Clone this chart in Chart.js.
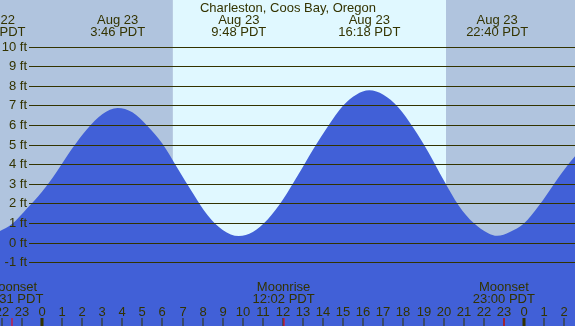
<!DOCTYPE html>
<html>
<head>
<meta charset="utf-8">
<script src="https://cdn.jsdelivr.net/npm/chart.js@4/dist/chart.umd.min.js"></script>
<style>
html,body{margin:0;padding:0;background:#fff;}
#wrap{width:575px;height:326px;position:relative;}
</style>
</head>
<body>
<div id="wrap"><canvas id="c" width="575" height="326"></canvas></div>
<script>
// Hours relative to midnight Aug 23 (negative = Aug 22)
const hours   = [-2.37, -1.5, -0.75, 0, 0.75, 1.5, 2.25, 3, 3.77, 4.5, 5.25, 6, 6.75, 7.5, 8.25, 9, 9.8, 10.5, 11.25, 12, 12.75, 13.5, 14.25, 15, 15.65, 16.3, 17, 17.75, 18.5, 19.25, 20, 20.75, 21.5, 22.2, 22.67, 23.3, 24, 24.75, 25.5, 26.25, 27];
const heights = [0.45, 0.95, 1.75, 2.6, 3.65, 4.8, 5.8, 6.55, 6.87, 6.65, 5.95, 5.05, 3.8, 2.55, 1.4, 0.65, 0.34, 0.55, 1.2, 2.2, 3.45, 4.75, 5.95, 7.0, 7.55, 7.77, 7.55, 6.9, 5.85, 4.6, 3.2, 1.9, 1.0, 0.5, 0.35, 0.55, 0.98, 1.9, 3.0, 4.05, 4.95];

const title = "Charleston, Coos Bay, Oregon";
const extremeHours  = [-2.37, 3.77, 9.8, 16.3, 22.67];
const extremeDates  = ["Aug 22", "Aug 23", "Aug 23", "Aug 23", "Aug 23"];
const extremeTimes  = ["21:38 PDT", "3:46 PDT", "9:48 PDT", "16:18 PDT", "22:40 PDT"];

const levelTicks = [-1, 0, 1, 2, 3, 4, 5, 6, 7, 8, 9, 10];
const hourTicks  = [-2, -1, 0, 1, 2, 3, 4, 5, 6, 7, 8, 9, 10, 11, 12, 13, 14, 15, 16, 17, 18, 19, 20, 21, 22, 23, 24, 25, 26];
const hourLabels = ["22","23","0","1","2","3","4","5","6","7","8","9","10","11","12","13","14","15","16","17","18","19","20","21","22","23","0","1","2"];

const moonHours  = [-1.48, 12.03, 23.0];
const moonEvents = ["Moonset", "Moonrise", "Moonset"];
const moonTimes  = ["22:31 PDT", "12:02 PDT", "23:00 PDT"];

const sunrise = 6.52, sunset = 20.12;
const xMin = -2.0916, xMax = 26.544;
const yMin = -4.25, yMax = 12.38;

const NIGHT = '#B0C4DE', DAY = '#E0F8FF', FILL = '#4160D7', INK = '#333300';
const FONT = "13px 'Liberation Sans', Arial, sans-serif";

const deco = {
  id: 'deco',
  beforeDatasetsDraw(chart) {
    const {ctx, chartArea: a, scales: {x}} = chart;
    ctx.save();
    const xs = x.getPixelForValue(sunrise), xe = x.getPixelForValue(sunset);
    ctx.fillStyle = NIGHT;
    ctx.fillRect(a.left, a.top, xs - a.left, a.bottom - a.top);
    ctx.fillRect(xe, a.top, a.right - xe, a.bottom - a.top);
    ctx.fillStyle = DAY;
    ctx.fillRect(xs, a.top, xe - xs, a.bottom - a.top);
    ctx.restore();
  },
  afterDatasetsDraw(chart) {
    const {ctx, chartArea: a, scales: {x, y}} = chart;
    ctx.save();
    ctx.strokeStyle = INK; ctx.lineWidth = 1;
    ctx.font = FONT; ctx.fillStyle = INK;
    ctx.textAlign = 'right'; ctx.textBaseline = 'middle';
    levelTicks.forEach(v => {
      const py = Math.round(y.getPixelForValue(v)) + 0.5;
      ctx.beginPath(); ctx.moveTo(29, py); ctx.lineTo(a.right, py); ctx.stroke();
      ctx.fillText(v + ' ft', 27, py);
    });
    ctx.textAlign = 'center'; ctx.textBaseline = 'alphabetic';
    ctx.fillText(title, 288, 12);
    extremeHours.forEach((h, i) => {
      const px = x.getPixelForValue(h);
      ctx.fillText(extremeDates[i], px, 24);
      ctx.fillText(extremeTimes[i], px, 36);
    });
    hourTicks.forEach((h, i) => {
      const px = Math.round(x.getPixelForValue(h));
      ctx.fillStyle = INK;
      ctx.fillText(hourLabels[i], px, 316);
      if (hourLabels[i] === '0') ctx.fillRect(px - 1.5, 318, 3, 8);
      else ctx.fillRect(px - 0.5, 318, 1, 8);
    });
    moonHours.forEach((h, i) => {
      const px = x.getPixelForValue(h);
      ctx.fillStyle = INK;
      ctx.fillText(moonEvents[i], px, 291);
      ctx.fillText(moonTimes[i], px, 303);
      ctx.fillStyle = '#FF0000';
      ctx.fillRect(Math.round(px) - 0.5, 318, 1, 8);
    });
    ctx.restore();
  }
};

new Chart(document.getElementById('c'), {
  type: 'line',
  data: {
    datasets: [{
      data: hours.map((h, i) => ({x: h, y: heights[i]})),
      borderWidth: 0,
      borderColor: FILL,
      backgroundColor: FILL,
      fill: 'start',
      pointRadius: 0,
      cubicInterpolationMode: 'monotone'
    }]
  },
  options: {
    responsive: false,
    animation: false,
    layout: {padding: 0},
    plugins: {legend: {display: false}, tooltip: {enabled: false}, title: {display: false}},
    scales: {
      x: {type: 'linear', min: xMin, max: xMax, display: false},
      y: {type: 'linear', min: yMin, max: yMax, display: false}
    }
  },
  plugins: [deco]
});
</script>
</body>
</html>
